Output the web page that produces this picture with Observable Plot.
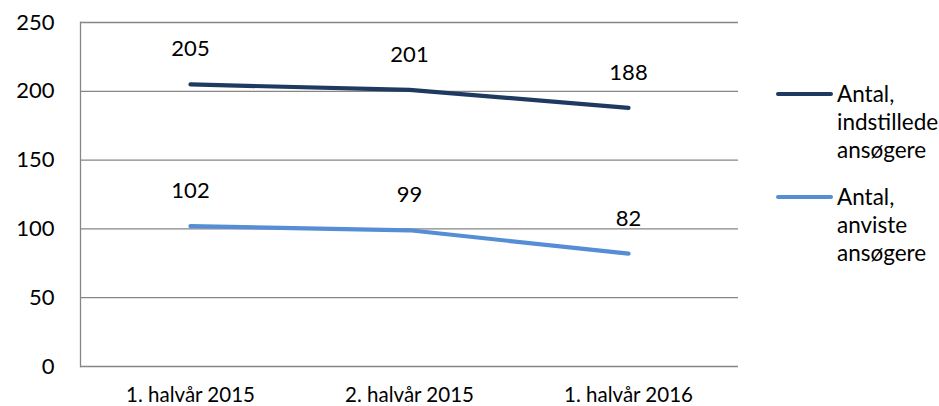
<!DOCTYPE html>
<html><head><meta charset="utf-8">
<script src="https://cdn.jsdelivr.net/npm/d3@7"></script>
<script src="https://cdn.jsdelivr.net/npm/@observablehq/plot@0.6"></script>
<style>
body{margin:0;background:#fff;font-family:Lato,"Open Sans",sans-serif;}
#wrap{position:relative;width:939px;height:406px;}
.leg{position:absolute;left:776px;font-size:22.5px;line-height:28px;color:#000;}
.leg .sw{position:absolute;left:0;top:12px;width:57px;height:4px;border-radius:2px;}
.leg .tx{position:absolute;left:61px;top:0;white-space:nowrap;}
</style></head>
<body><div id="wrap"></div>
<script>
const periods = ["1. halvår 2015", "2. halvår 2015", "1. halvår 2016"];
const seriesNames = ["Antal,\nindstillede\nansøgere", "Antal,\nanviste\nansøgere"];
const indstillede = [205, 201, 188];
const anviste = [102, 99, 82];
const yTicks = [0, 50, 100, 150, 200, 250];
const colors = ["#1F3A60", "#558ED5"];

const rows = [];
[indstillede, anviste].forEach((vals, s) => periods.forEach((p, i) => rows.push({period: p, value: vals[i], series: seriesNames[s]})));

const chart = Plot.plot({
  width: 939, height: 406,
  marginLeft: 80, marginRight: 201, marginTop: 22, marginBottom: 40,
  style: {fontFamily: "Lato, 'Open Sans', sans-serif", color: "#000", background: "#fff"},
  x: {type: "point", domain: periods, padding: 0.5, label: null},
  y: {domain: [0, 250], label: null},
  color: {domain: seriesNames, range: colors},
  marks: [
    Plot.gridY(yTicks, {stroke: "#868686", strokeOpacity: 1, strokeWidth: 1.3}),
    Plot.frame({anchor: "left", stroke: "#868686", strokeWidth: 1.3}),
    Plot.axisY(yTicks, {tickSize: 0, tickPadding: 26, fontSize: 22, label: null}),
    Plot.axisX({tickSize: 0, tickPadding: 21, fontSize: 20.5, label: null}),
    Plot.line(rows, {x: "period", y: "value", z: "series", stroke: "series", strokeWidth: 4.2, strokeLinecap: "round"}),
    Plot.text(rows, {x: "period", y: "value", text: d => String(d.value), dy: -35, fontSize: 22, fill: "#000"})
  ]
});
const wrap = document.getElementById("wrap");
wrap.appendChild(chart);
const legTops = [80, 183];
seriesNames.forEach((n, i) => {
  const d = document.createElement("div");
  d.className = "leg";
  d.style.top = legTops[i] + "px";
  const sw = document.createElement("div"); sw.className = "sw"; sw.style.background = colors[i];
  const tx = document.createElement("div"); tx.className = "tx"; tx.innerHTML = n.split("\n").join("<br>");
  d.appendChild(sw); d.appendChild(tx); wrap.appendChild(d);
});
</script></body></html>
